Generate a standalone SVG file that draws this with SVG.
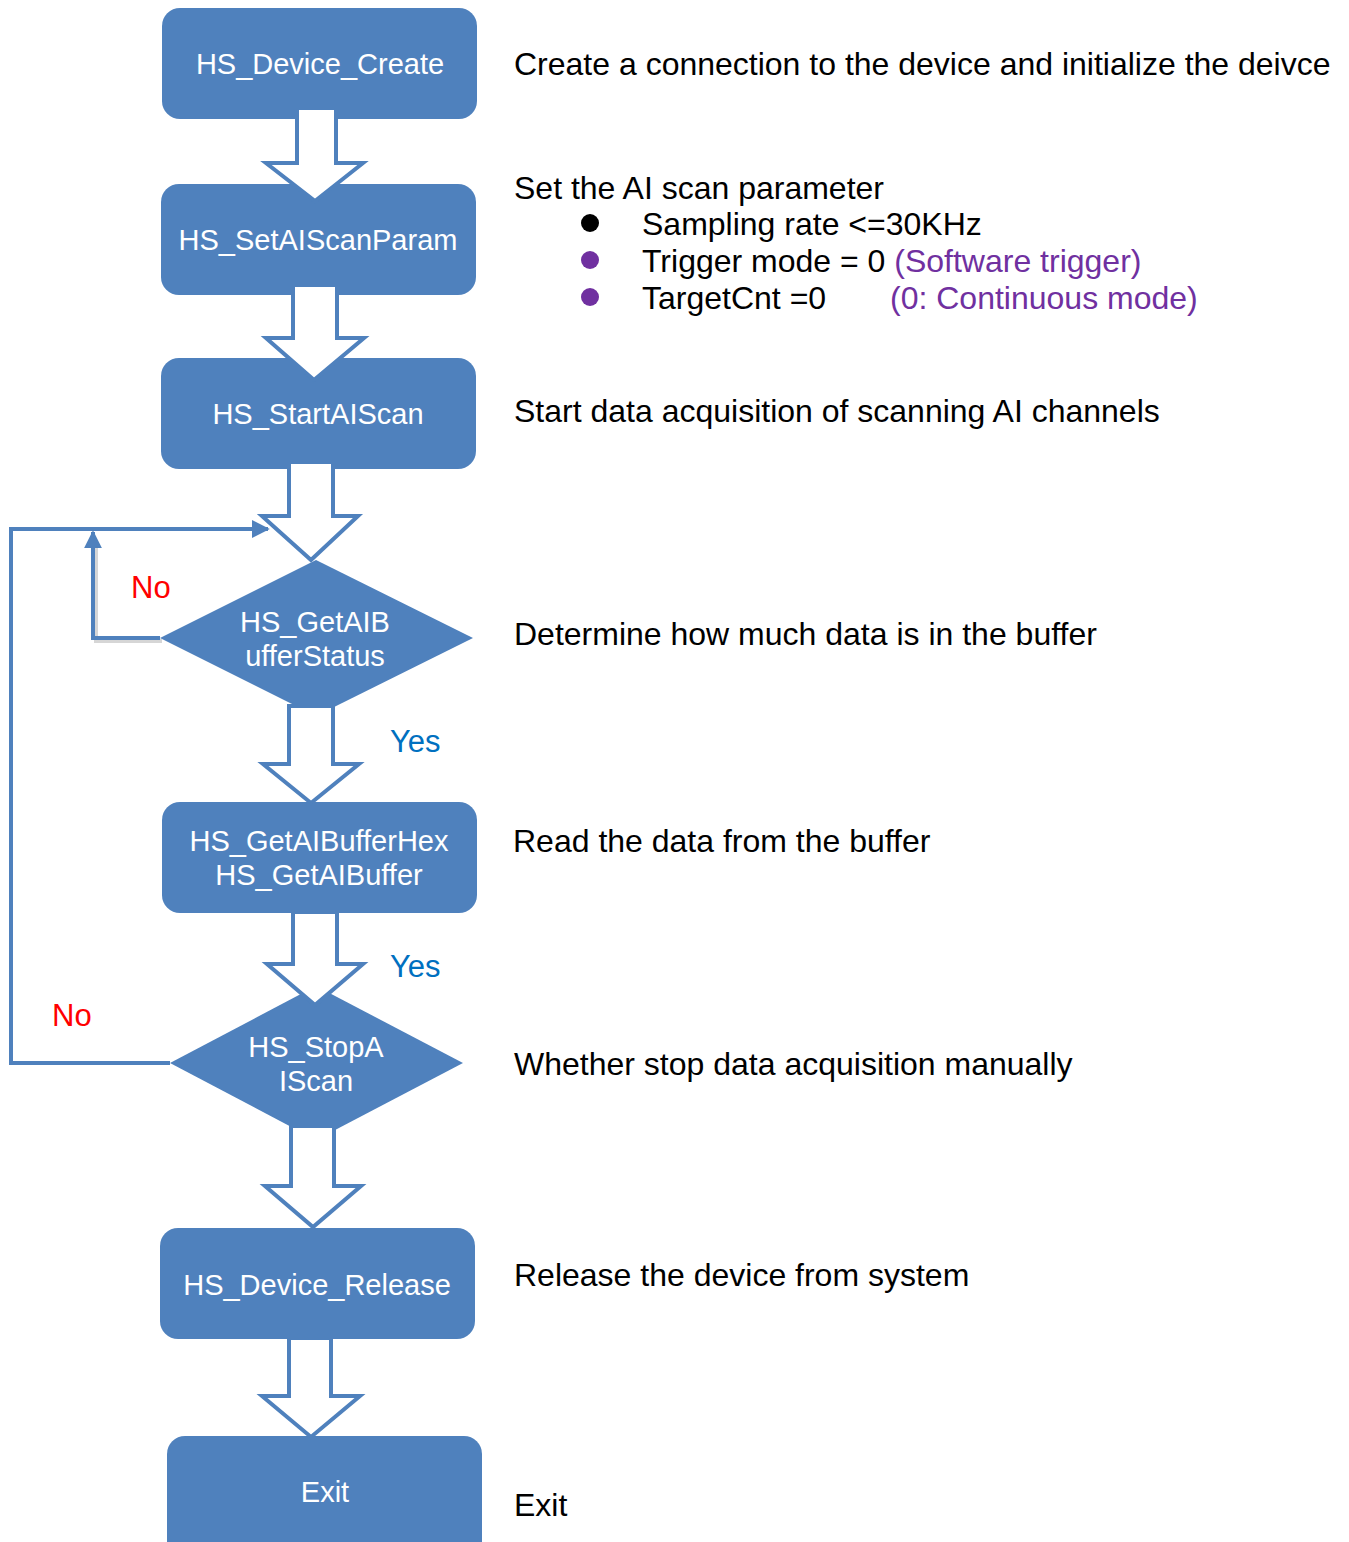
<svg xmlns="http://www.w3.org/2000/svg" width="1349" height="1542" viewBox="0 0 1349 1542">
<style>
.box{fill:#4F81BD;}
.nt{font-family:"Liberation Sans",Arial,sans-serif;font-size:29px;fill:#fff;text-anchor:middle;}
.dt{font-family:"Liberation Sans",Arial,sans-serif;font-size:32px;fill:#000;}
.pu{fill:#7030A0;}
.blk{fill:#000;}
.arr{fill:#fff;stroke:#4F81BD;stroke-width:4;stroke-linejoin:miter;}
.ln{fill:none;stroke:#4F81BD;stroke-width:4;}
.no{font-family:"Liberation Sans",Arial,sans-serif;font-size:31px;fill:#FF0000;}
.yes{font-family:"Liberation Sans",Arial,sans-serif;font-size:31px;fill:#0070C0;}
</style>
<defs>
<marker id="ah" viewBox="0 0 10 10" refX="9" refY="5" markerWidth="4.5" markerHeight="4.5" orient="auto" markerUnits="strokeWidth">
<path d="M0,0 L10,5 L0,10 Z" fill="#4F81BD"/>
</marker>
</defs>
<rect width="1349" height="1542" fill="#fff"/>

<g id="n1"><rect class="box" x="162" y="8" width="315" height="111" rx="18"/><text class="nt" x="320" y="74">HS_Device_Create</text></g>
<g id="n2"><rect class="box" x="161" y="184" width="315" height="111" rx="18"/><text class="nt" x="318" y="250">HS_SetAIScanParam</text></g>
<g id="n3"><rect class="box" x="161" y="358" width="315" height="111" rx="18"/><text class="nt" x="318" y="424">HS_StartAIScan</text></g>
<g id="n4"><polygon class="box" points="160,638 316,560 473,638 316,716"/><text class="nt" x="315" y="632">HS_GetAIB</text><text class="nt" x="315" y="666">ufferStatus</text></g>
<g id="n5"><rect class="box" x="162" y="802" width="315" height="111" rx="18"/><text class="nt" x="319" y="851">HS_GetAIBufferHex</text><text class="nt" x="319" y="885">HS_GetAIBuffer</text></g>
<g id="n6"><polygon class="box" points="170,1063 316,986 463,1063 316,1140"/><text class="nt" x="316" y="1057">HS_StopA</text><text class="nt" x="316" y="1091">IScan</text></g>
<g id="n7"><rect class="box" x="160" y="1228" width="315" height="111" rx="18"/><text class="nt" x="317" y="1295">HS_Device_Release</text></g>
<g id="n8"><rect class="box" x="167" y="1436" width="315" height="140" rx="18"/><text class="nt" x="325" y="1502">Exit</text></g>

<g id="connectors">
<polygon class="arr" points="297,108 336,108 336,163 363,163 315,201 266,163 297,163"/>
<polygon class="arr" points="293,285 337,285 337,338 364,338 314,380 266,338 293,338"/>
<polygon class="arr" points="289,462 333,462 333,516 358,516 311,560 262,516 289,516"/>
<polygon class="arr" points="289,706 333,706 333,764 359,764 311,803 263,764 289,764"/>
<polygon class="arr" points="293,912 337,912 337,964 363,964 315,1005 267,964 293,964"/>
<polygon class="arr" points="291,1126 334,1126 334,1186 361,1186 313,1227 265,1186 291,1186"/>
<polygon class="arr" points="289,1338 331,1338 331,1396 360,1396 311,1437 262,1396 289,1396"/>
<polyline class="ln" points="170,1063 11,1063 11,529 268,529" marker-end="url(#ah)"/>
<polyline points="162,641 96,641 96,540" fill="none" stroke="#bbb" stroke-width="4" opacity="0.6"/>
<polyline class="ln" points="160,638 93,638 93,532" marker-end="url(#ah)"/>
<text class="no" x="131" y="598">No</text>
<text class="no" x="52" y="1026">No</text>
<text class="yes" x="390" y="752">Yes</text>
<text class="yes" x="390" y="977">Yes</text>
</g>

<g id="descriptions">
<text class="dt" x="514" y="75">Create a connection to the device and initialize the deivce</text>
<text class="dt" x="514" y="199">Set the AI scan parameter</text>
<circle class="blk" cx="590" cy="223" r="9"/>
<text class="dt" x="642" y="235">Sampling rate &lt;=30KHz</text>
<circle class="pu" cx="590" cy="260" r="9"/>
<text class="dt" x="642" y="272">Trigger mode = 0 <tspan class="pu">(Software trigger)</tspan></text>
<circle class="pu" cx="590" cy="297" r="9"/>
<text class="dt" x="642" y="309">TargetCnt =0</text>
<text class="dt pu" x="890" y="309">(0: Continuous mode)</text>
<text class="dt" x="514" y="422">Start data acquisition of scanning AI channels</text>
<text class="dt" x="514" y="645">Determine how much data is in the buffer</text>
<text class="dt" x="513" y="852">Read the data from the buffer</text>
<text class="dt" x="514" y="1075">Whether stop data acquisition manually</text>
<text class="dt" x="514" y="1286">Release the device from system</text>
<text class="dt" x="514" y="1516">Exit</text>
</g>
</svg>
